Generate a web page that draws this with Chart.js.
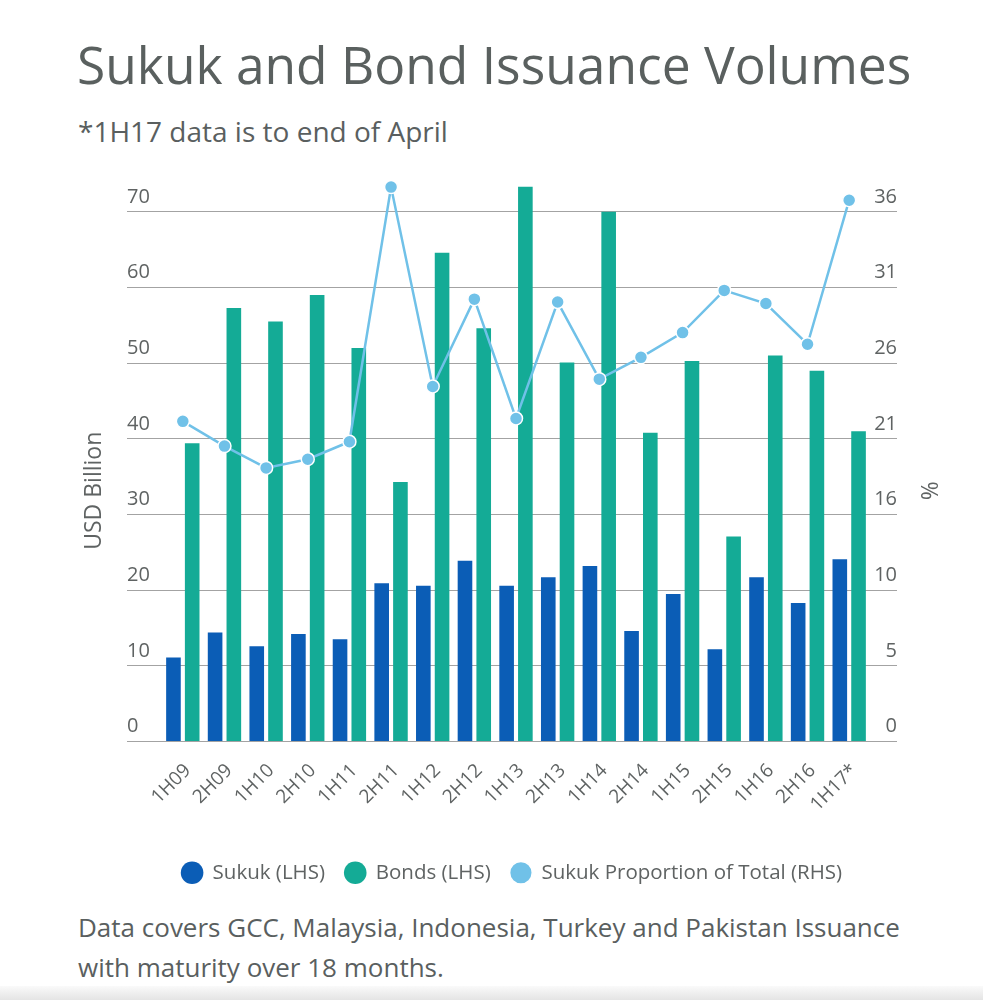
<!DOCTYPE html>
<html>
<head>
<meta charset="utf-8">
<script src="https://cdn.jsdelivr.net/npm/chart.js@4.4.1/dist/chart.umd.min.js"></script>
<style>
  html, body { margin: 0; padding: 0; background: #fff; }
  body { width: 983px; height: 1000px; position: relative; overflow: hidden; font-family: "Open Sans", sans-serif; color: #575c5c; }
  #title { position: absolute; left: 77px; top: 29px; font-size: 51.5px; line-height: normal; color: #5a605f; white-space: nowrap; }
  #subtitle { position: absolute; left: 78px; top: 112px; font-size: 28px; line-height: normal; color: #5a5f5f; white-space: nowrap; }
  #chart-wrap { position: absolute; left: 0; top: 159px; width: 983px; height: 735px; }
  #footer { position: absolute; left: 78px; top: 907px; font-size: 26px; line-height: 40px; color: #5a5f5f; white-space: nowrap; }
  #strip { position: absolute; left: 0; bottom: 0; width: 983px; height: 14px; background: linear-gradient(#fafafa, #e4e4e4); }
</style>
</head>
<body>
<div id="title">Sukuk and Bond Issuance Volumes</div>
<div id="subtitle">*1H17 data is to end of April</div>
<div id="chart-wrap"><canvas id="issuanceChart"></canvas></div>
<div id="footer">Data covers GCC, Malaysia, Indonesia, Turkey and Pakistan Issuance<br>with maturity over 18 months.</div>
<div id="strip"></div>
<script>
// Data
const periods = ['1H09', '2H09', '1H10', '2H10', '1H11', '2H11', '1H12', '2H12', '1H13', '2H13', '1H14', '2H14', '1H15', '2H15', '1H16', '2H16', '1H17*'];
const sukuk = [11.1, 14.4, 12.6, 14.2, 13.5, 20.9, 20.6, 23.9, 20.6, 21.7, 23.2, 14.6, 19.5, 12.2, 21.7, 18.3, 24.1];
const bonds = [39.4, 57.3, 55.5, 59.0, 52.0, 34.3, 64.6, 54.6, 73.3, 50.1, 70.0, 40.8, 50.3, 27.1, 51.0, 49.0, 41.0];
const sukukShare = [22.0, 20.3, 18.8, 19.4, 20.6, 38.1, 24.4, 30.4, 22.2, 30.2, 24.9, 26.4, 28.1, 31.0, 30.1, 27.3, 37.2];

// axes: gridlines stop at 70 / 36.4, a bit of headroom above for the peaks
const leftMax = 75;
const leftStep = 10;
const rightMax = 39;
const rightStep = 5.2;

const gridColor = '#a3a3a3';
const labelColor = '#5f6363';

// rotated axis titles (USD Billion / %)
const axisTitles = {
  id: 'axisTitles',
  afterDraw(chart) {
    const { ctx, chartArea } = chart;
    const midY = (chartArea.top + chartArea.bottom) / 2 + 33;
    [['USD Billion', chartArea.left - 68], ['%', chartArea.right + 61]].forEach(([txt, x]) => {
      ctx.save();
      ctx.fillStyle = labelColor;
      ctx.font = '23px "Open Sans"';
      ctx.textAlign = 'center';
      ctx.textBaseline = 'middle';
      ctx.translate(x, midY);
      ctx.rotate(-Math.PI / 2);
      ctx.fillText(txt, 0, 0);
      ctx.restore();
    });
  }
};

const ctx = document.getElementById('issuanceChart');
new Chart(ctx, {
  type: 'bar',
  data: {
    labels: periods,
    datasets: [
      {
        type: 'line',
        label: 'Sukuk Proportion of Total (RHS)',
        data: sukukShare,
        yAxisID: 'yRight',
        borderColor: '#70c1e8',
        backgroundColor: '#70c1e8',
        borderWidth: 2.5,
        pointRadius: 6.5,
        pointHoverRadius: 6.5,
        pointBackgroundColor: '#70c1e8',
        pointBorderColor: '#ffffff',
        pointBorderWidth: 1.5,
        tension: 0,
        clip: false,
        order: 0
      },
      {
        label: 'Sukuk (LHS)',
        data: sukuk,
        yAxisID: 'yLeft',
        backgroundColor: '#0b5db6',
        borderWidth: 0,
        clip: false,
        order: 1
      },
      {
        label: 'Bonds (LHS)',
        data: bonds,
        yAxisID: 'yLeft',
        backgroundColor: '#14ab96',
        borderWidth: 0,
        clip: false,
        order: 1
      }
    ]
  },
  options: {
    responsive: true,
    maintainAspectRatio: false,
    animation: false,
    categoryPercentage: 0.9,
    barPercentage: 0.78,
    layout: { padding: { left: 127, right: 86, top: 4, bottom: 1 } },
    plugins: {
      tooltip: { enabled: false },
      legend: {
        position: 'bottom',
        labels: {
          usePointStyle: true,
          pointStyle: 'circle',
          boxHeight: 16,
          padding: 20,
          color: labelColor,
          font: { family: 'Open Sans', size: 20.5 },
          sort: (a, b) => [1, 2, 0].indexOf(a.datasetIndex) - [1, 2, 0].indexOf(b.datasetIndex)
        }
      }
    },
    scales: {
      x: {
        grid: { display: false, drawTicks: false },
        border: { display: false },
        afterFit: (scale) => { scale.height = 101; },
        ticks: {
          minRotation: 45,
          maxRotation: 45,
          autoSkip: false,
          padding: 18,
          labelOffset: 5,
          color: labelColor,
          font: { family: 'Open Sans', size: 19 }
        }
      },
      yLeft: {
        position: 'left',
        min: 0,
        max: leftMax,
        afterFit: (scale) => { scale.width = 35; },
        border: { display: false },
        grid: { color: gridColor, lineWidth: 1, drawTicks: true, tickLength: 35 },
        ticks: {
          stepSize: leftStep,
          includeBounds: false,
          crossAlign: 'far',
          labelOffset: -15,
          color: labelColor,
          font: { family: 'Open Sans', size: 20 }
        }
      },
      yRight: {
        position: 'right',
        min: 0,
        max: rightMax,
        afterFit: (scale) => { scale.width = 27; },
        border: { display: false },
        grid: { color: gridColor, lineWidth: 1, drawOnChartArea: false, drawTicks: true, tickLength: 27 },
        ticks: {
          stepSize: rightStep,
          includeBounds: false,
          crossAlign: 'far',
          labelOffset: -15,
          color: labelColor,
          font: { family: 'Open Sans', size: 20 },
          callback: (value) => Math.round(value)
        }
      }
    }
  },
  plugins: [axisTitles]
});
</script>
</body>
</html>
